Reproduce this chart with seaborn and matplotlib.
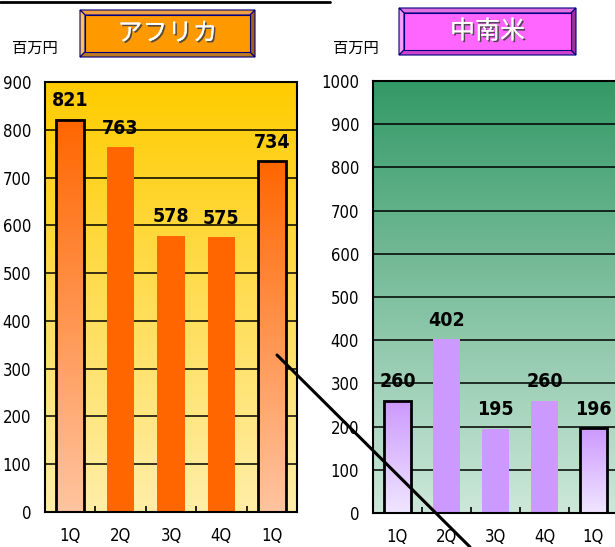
import numpy as np
import matplotlib.pyplot as plt
import matplotlib.patheffects as pe
from matplotlib.colors import LinearSegmentedColormap
from matplotlib.patches import Polygon
from matplotlib.lines import Line2D
import seaborn as sns

# ----- DATA -----
periods = ["前年1Q", "2Q", "3Q", "4Q", "1Q"]          # unique keys for the category axis
quarter_labels = ["1Q", "2Q", "3Q", "4Q", "1Q"]
africa_sales = [821, 763, 578, 575, 734]
latam_sales = [260, 402, 195, 260, 196]
highlight = [0, 4]   # bars drawn with a gradient and black outline

W, H = 615, 547

sns.set_theme(style="white")
plt.rcParams["font.family"] = ["DejaVu Sans"]
plt.rcParams["font.stretch"] = "condensed"
plt.rcParams["text.color"] = "black"
plt.rcParams["xtick.color"] = "black"
plt.rcParams["ytick.color"] = "black"
JP = ["Noto Sans CJK JP", "DejaVu Sans"]

fig = plt.figure(figsize=(W / 100, H / 100), dpi=100)
fig.patch.set_facecolor("white")


def fig_pt(x, y):
    # pixel position (top-left origin) -> figure fraction
    return x / W, 1 - y / H


def panel(rect, values, ymax, bg_top, bg_bottom, bar_color, grad_top, grad_bottom):
    ax = fig.add_axes(rect)
    ramp = np.linspace(0, 1, 256).reshape(-1, 1)

    # background gradient
    bg = LinearSegmentedColormap.from_list("bg", [bg_bottom, bg_top])
    ax.imshow(ramp, cmap=bg, extent=[-0.5, 4.5, 0, ymax], aspect="auto",
              origin="lower", zorder=0)

    sns.barplot(x=periods, y=values, color=bar_color, saturation=1,
                width=0.55, linewidth=0, ax=ax, zorder=2)

    # gradient + outline for the year-on-year bars
    grad = LinearSegmentedColormap.from_list("bar", [grad_bottom, grad_top])
    for i in highlight:
        p = ax.patches[i]
        x, w, h = p.get_x(), p.get_width(), p.get_height()
        ax.imshow(ramp, cmap=grad, extent=[x, x + w, 0, h], aspect="auto",
                  origin="lower", zorder=2.5)
        p.set_facecolor("none")
        p.set_edgecolor("black")
        p.set_linewidth(2)
        p.set_zorder(3)

    ax.bar_label(ax.containers[0], padding=7, fontsize=14, fontweight="bold",
                 color="black")

    ax.set_xlim(-0.5, 4.5)
    ax.set_ylim(0, ymax)
    ax.set_yticks(range(0, ymax + 1, 100))
    ax.set_xticks(range(len(periods)))
    ax.set_xticklabels(quarter_labels)
    ax.set_xticks([0.5, 1.5, 2.5, 3.5], minor=True)
    ax.tick_params(axis="x", which="major", length=0, pad=11, labelsize=12)
    ax.tick_params(axis="x", which="minor", direction="in", length=4,
                   width=1.2, bottom=True, color="black")
    ax.tick_params(axis="y", length=0, pad=10, labelsize=12)
    ax.set_xlabel("")
    ax.set_ylabel("")
    ax.yaxis.grid(True, color="black", lw=1.1)
    ax.set_axisbelow(True)
    for s in ax.spines.values():
        s.set_color("black")
        s.set_linewidth(1.5)
    return ax


def title_box(x0, y0, x1, y1, face, top, left, bottom, right, text):
    b = 5
    o = [(x0, y0), (x1, y0), (x1, y1), (x0, y1)]
    i = [(x0 + b, y0 + b), (x1 - b, y0 + b), (x1 - b, y1 - b), (x0 + b, y1 - b)]
    parts = [
        ([o[0], o[1], i[1], i[0]], top),
        ([o[0], i[0], i[3], o[3]], left),
        ([o[3], i[3], i[2], o[2]], bottom),
        ([o[1], o[2], i[2], i[1]], right),
        (i, face),
    ]
    for pts, c in parts:
        fig.add_artist(Polygon([fig_pt(*p) for p in pts], closed=True,
                               facecolor=c, edgecolor="#000080", lw=0.8,
                               transform=fig.transFigure))
    cx, cy = fig_pt((x0 + x1) / 2, (y0 + y1) / 2)
    fig.text(cx, cy, text, ha="center", va="center", fontsize=18,
             color="white", family=JP,
             path_effects=[pe.withSimplePatchShadow(offset=(1.2, -1.2),
                                                    shadow_rgbFace="#444444",
                                                    alpha=0.9),
                           pe.Normal()])


# ----- PANELS -----
panel([45 / W, 35 / H, 252 / W, 430 / H], africa_sales, 900,
      "#FFCC00", "#FFEEA8", "#FF6600", "#FF6600", "#FFC4A0")
panel([373 / W, 34 / H, 245 / W, 432 / H], latam_sales, 1000,
      "#339966", "#CDE8DA", "#CC99FF", "#CC99FF", "#F0E6FF")

title_box(80, 10, 255, 57, "#FF9900", "#F0A040", "#FFC060", "#C07820", "#A06010", "アフリカ")
title_box(399, 8, 576, 55, "#FF66FF", "#E070E0", "#F59CF5", "#CC44CC", "#993399", "中南米")

for x in (12, 333):
    fx, fy = fig_pt(x, 48)
    fig.text(fx, fy, "百万円", ha="left", va="center", fontsize=11, family=JP)

# decorative lines from the original slide
fig.add_artist(Line2D([0, 330 / W], [1 - 2 / H] * 2, lw=2, color="black",
                      transform=fig.transFigure))
(ax0, ay0), (ax1, ay1) = fig_pt(277, 355), fig_pt(470, 547)
fig.add_artist(Line2D([ax0, ax1], [ay0, ay1], lw=2.2, color="black",
                      transform=fig.transFigure, zorder=10))

fig.savefig("out.png", dpi=100)
